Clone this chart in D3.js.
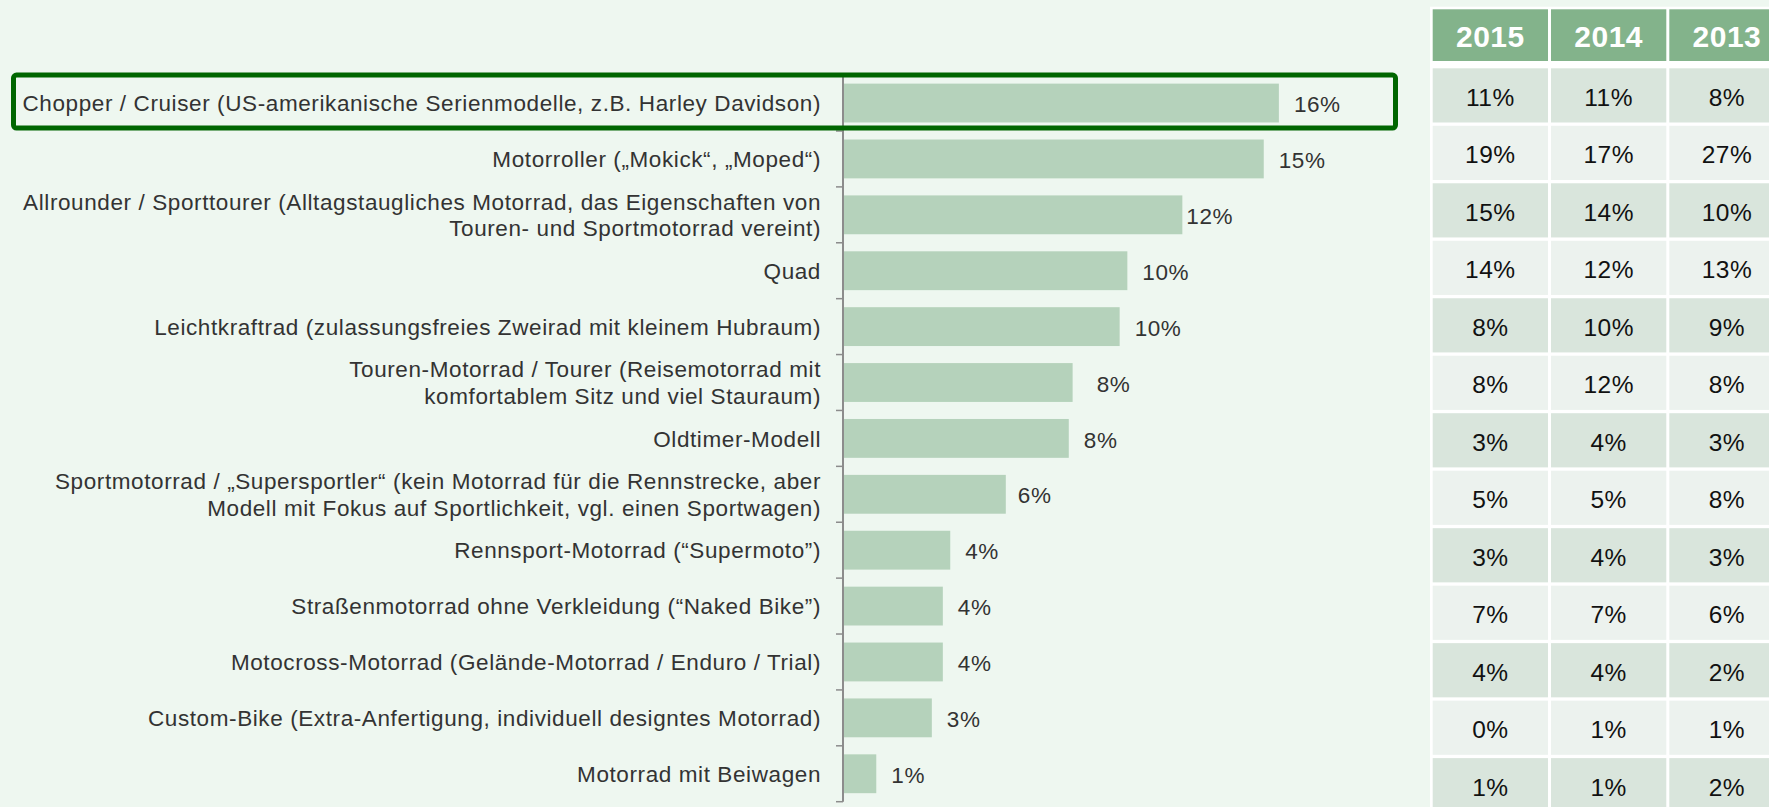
<!DOCTYPE html>
<html>
<head>
<meta charset="utf-8">
<script src="https://cdn.jsdelivr.net/npm/d3@7"></script>
<style>
  body { margin: 0; background: #eef7f0; }
  svg { display: block; font-family: "Liberation Sans", Arial, sans-serif; }
</style>
</head>
<body>
<div id="chart-area"></div>
<script>
// Categories (line breaks as in the original)
var categories = [
    "Chopper / Cruiser (US-amerikanische Serienmodelle, z.B. Harley Davidson)",
    "Motorroller (\u201eMokick\u201c, \u201eMoped\u201c)",
    "Allrounder / Sporttourer (Alltagstaugliches Motorrad, das Eigenschaften von\nTouren- und Sportmotorrad vereint)",
    "Quad",
    "Leichtkraftrad (zulassungsfreies Zweirad mit kleinem Hubraum)",
    "Touren-Motorrad / Tourer (Reisemotorrad mit\nkomfortablem Sitz und viel Stauraum)",
    "Oldtimer-Modell",
    "Sportmotorrad / \u201eSupersportler\u201c (kein Motorrad f\u00fcr die Rennstrecke, aber\nModell mit Fokus auf Sportlichkeit, vgl. einen Sportwagen)",
    "Rennsport-Motorrad (\u201cSupermoto\u201d)",
    "Stra\u00dfenmotorrad ohne Verkleidung (\u201cNaked Bike\u201d)",
    "Motocross-Motorrad (Gel\u00e4nde-Motorrad / Enduro / Trial)",
    "Custom-Bike (Extra-Anfertigung, individuell designtes Motorrad)",
    "Motorrad mit Beiwagen"
];

// Bar values in percent
var values = [15.85, 15.3, 12.34, 10.34, 10.06, 8.35, 8.21, 5.92, 3.9, 3.63, 3.63, 3.23, 1.21];

// Comparison table
var years = ["2015", "2014", "2013"];
var v2015 = ["11%", "19%", "15%", "14%", "8%", "8%", "3%", "5%", "3%", "7%", "4%", "0%", "1%"];
var v2014 = ["11%", "17%", "14%", "12%", "10%", "12%", "4%", "5%", "4%", "7%", "4%", "1%", "1%"];
var v2013 = ["8%", "27%", "10%", "13%", "9%", "8%", "3%", "8%", "3%", "6%", "2%", "1%", "2%"];

var width = 1769, height = 807;

var svg = d3.select("#chart-area").append("svg")
    .attr("width", width)
    .attr("height", height);

svg.append("rect")
    .attr("width", width)
    .attr("height", height)
    .attr("fill", "#eef7f0");

var data = categories.map(function(c, i) { return { cat: c, value: values[i] }; });

// Scales
var x = d3.scaleLinear().domain([0, 20]).range([843, 1393]);
var y = d3.scaleBand()
    .domain(categories)
    .range([75.1, 801.7])
    .paddingInner(0.305)
    .paddingOuter(0.1525);

/******************************** Table ********************************/

var tbl = svg.append("g").attr("class", "table");

var col = d3.scaleBand().domain(years).range([1432.7, 1784.6]).paddingInner(0.0254);
var row = d3.scaleBand().domain(d3.range(13)).range([68.3, 812.3]).paddingInner(0.0573);

tbl.append("rect")
    .attr("x", 1430)
    .attr("y", 6.7)
    .attr("width", width - 1430)
    .attr("height", height)
    .attr("fill", "#ffffff");

tbl.selectAll(".head")
    .data(years)
    .enter().append("rect")
    .attr("class", "head")
    .attr("x", function(d) { return col(d); })
    .attr("y", 9.3)
    .attr("width", col.bandwidth())
    .attr("height", 51.7)
    .attr("fill", "#83b38b");

tbl.selectAll(".head-text")
    .data(years)
    .enter().append("text")
    .attr("class", "head-text")
    .attr("x", function(d) { return col(d) + col.bandwidth() / 2; })
    .attr("y", 36)
    .attr("dy", "0.36em")
    .attr("text-anchor", "middle")
    .attr("fill", "#ffffff")
    .attr("font-weight", "bold")
    .attr("font-size", "30px")
    .attr("letter-spacing", "0.5px")
    .text(function(d) { return d; });

var columns = [v2015, v2014, v2013];
var cells = [];
columns.forEach(function(vals, ci) {
    vals.forEach(function(v, ri) { cells.push({ year: years[ci], r: ri, text: v }); });
});

tbl.selectAll(".cell")
    .data(cells)
    .enter().append("rect")
    .attr("class", "cell")
    .attr("x", function(d) { return col(d.year); })
    .attr("y", function(d) { return row(d.r); })
    .attr("width", col.bandwidth())
    .attr("height", row.bandwidth())
    .attr("fill", function(d) { return d.r % 2 === 0 ? "#d9e5dc" : "#ecf2ee"; });

tbl.selectAll(".cell-text")
    .data(cells)
    .enter().append("text")
    .attr("class", "cell-text")
    .attr("x", function(d) { return col(d.year) + col.bandwidth() / 2; })
    .attr("y", function(d) { return row(d.r) + row.bandwidth() / 2 + 1.5; })
    .attr("dy", "0.36em")
    .attr("text-anchor", "middle")
    .attr("fill", "#111111")
    .attr("font-size", "24.5px")
    .attr("letter-spacing", "0.5px")
    .text(function(d) { return d.text; });

/******************************** Bars ********************************/

var g = svg.append("g");

g.selectAll(".bar")
    .data(data)
    .enter().append("rect")
    .attr("class", "bar")
    .attr("x", x(0))
    .attr("y", function(d) { return y(d.cat); })
    .attr("width", function(d) { return x(d.value) - x(0); })
    .attr("height", y.bandwidth())
    .attr("fill", "#b5d2bb");

// value labels (a few were nudged by hand in the original)
var nudge = { 2: 4, 5: 24, 7: 12 };
g.selectAll(".val")
    .data(data)
    .enter().append("text")
    .attr("class", "val")
    .attr("x", function(d, i) { return x(d.value) + (nudge[i] !== undefined ? nudge[i] : 15); })
    .attr("y", function(d) { return y(d.cat) + y.bandwidth() / 2 + 1; })
    .attr("dy", "0.36em")
    .attr("fill", "#333333")
    .attr("font-size", "22.5px")
    .attr("letter-spacing", "0.6px")
    .text(function(d) { return Math.round(d.value) + "%"; });

// Axis line with ticks at band boundaries
var y0 = y.range()[0];
var bounds = d3.range(categories.length + 1).map(function(i) { return y0 + i * y.step(); });

g.append("line")
    .attr("x1", x(0)).attr("x2", x(0))
    .attr("y1", y0).attr("y2", bounds[bounds.length - 1])
    .attr("stroke", "#8c8c8c")
    .attr("stroke-width", 2);

g.selectAll(".tick")
    .data(bounds)
    .enter().append("line")
    .attr("class", "tick")
    .attr("x1", x(0) - 7).attr("x2", x(0))
    .attr("y1", function(d) { return d; })
    .attr("y2", function(d) { return d; })
    .attr("stroke", "#8c8c8c")
    .attr("stroke-width", 1.5);

// Category labels
var lbl = g.selectAll(".cat")
    .data(data)
    .enter().append("text")
    .attr("class", "cat")
    .attr("text-anchor", "end")
    .attr("fill", "#333333")
    .attr("font-size", "22.5px")
    .attr("letter-spacing", "0.6px");

lbl.each(function(d) {
    var lines = d.cat.split("\n");
    var cy = y(d.cat) + y.bandwidth() / 2;
    var lh = 26.7;
    var t = d3.select(this);
    lines.forEach(function(l, k) {
        t.append("tspan")
            .attr("x", 821)
            .attr("y", cy + (k - (lines.length - 1) / 2) * lh)
            .attr("dy", "0.36em")
            .text(l);
    });
});

// Highlight box around the first category
svg.append("rect")
    .attr("x", 13.5)
    .attr("y", y0)
    .attr("width", x(20) + 2.5 - 13.5)
    .attr("height", y.step() - 3)
    .attr("rx", 3)
    .attr("fill", "none")
    .attr("stroke", "#006600")
    .attr("stroke-width", 5);
</script>
</body>
</html>
